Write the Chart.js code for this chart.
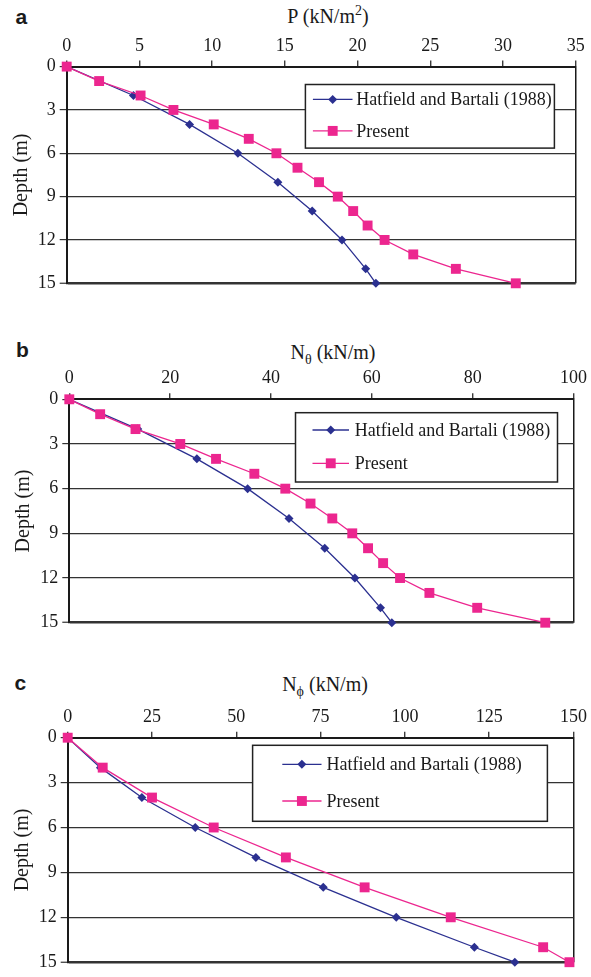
<!DOCTYPE html>
<html>
<head>
<meta charset="utf-8">
<script src="https://cdn.jsdelivr.net/npm/chart.js@4.4.1/dist/chart.umd.min.js"></script>
<style>
  body { margin: 0; background: #fff; width: 591px; height: 977px; position: relative; overflow: hidden; }
  canvas { position: absolute; left: 0; }
  .ttl { position: absolute; width: 200px; text-align: center; font: 20px "Liberation Serif", serif; line-height: 20px; color: #1a1a1a; white-space: nowrap; }
  .ttl sup, .ttl sub { font-size: 70%; line-height: 0; }
  .ltr { position: absolute; font: bold 21px "Liberation Sans", Arial, sans-serif; line-height: 21px; color: #1a1a1a; }
</style>
</head>
<body>
<div class="ltr" style="left:15.5px; top:5.5px">a</div>
<div class="ttl" style="left:228px; top:6px">P (kN/m<sup>2</sup>)</div>
<canvas id="chartA" width="591" height="300" style="top:0px"></canvas>

<div class="ltr" style="left:16px; top:339px">b</div>
<div class="ttl" style="left:233px; top:341.5px">N<sub>θ</sub> (kN/m)</div>
<canvas id="chartB" width="591" height="320" style="top:320px"></canvas>

<div class="ltr" style="left:14.5px; top:672px">c</div>
<div class="ttl" style="left:225px; top:674px">N<sub>ϕ</sub> (kN/m)</div>
<canvas id="chartC" width="591" height="317" style="top:660px"></canvas>

<script>
// depths (m)
var depthHat = [0, 2, 4, 6, 8, 10, 12, 14, 15];
var depthPresentAB = [0, 1, 2, 3, 4, 5, 6, 7, 8, 9, 10, 11, 12, 13, 14, 15];
var depthPresentC = [0, 2, 4, 6, 8, 10, 12, 14, 15];
var depthTicks = [0, 3, 6, 9, 12, 15];

// a: P (kN/m2)
var pHatfield = [0, 4.59, 8.45, 11.77, 14.52, 16.88, 18.93, 20.56, 21.26];
var pPresent = [0, 2.23, 5.08, 7.34, 10.11, 12.52, 14.42, 15.87, 17.35, 18.64, 19.70, 20.69, 21.86, 23.83, 26.76, 30.88];
var pTicks = [0, 5, 10, 15, 20, 25, 30, 35];

// b: N theta (kN/m)
var nThetaHatfield = [0, 13.58, 25.3, 35.37, 43.58, 50.67, 56.64, 61.72, 63.96];
var nThetaPresent = [0, 6.12, 13.13, 22.01, 29.1, 36.7, 42.84, 47.84, 52.16, 56.12, 59.25, 62.24, 65.6, 71.42, 80.9, 94.4];
var nThetaTicks = [0, 20, 40, 60, 80, 100];

// c: N phi (kN/m)
var nPhiHatfield = [0, 9.71, 21.99, 37.83, 55.8, 75.78, 97.43, 120.6, 132.6];
var nPhiPresent = [0, 10.38, 25.0, 43.3, 64.7, 88.06, 113.6, 141.0, 148.8];
var nPhiTicks = [0, 25, 50, 75, 100, 125, 150];

var seriesNames = ['Hatfield and Bartali (1988)', 'Present'];

var BLUE = '#2b3090';
var PINK = '#ec268f';
var INK = '#1a1a1a';
var SERIF = '"Liberation Serif", "Times New Roman", serif';

// legend box drawn inside the plot, like the original
var boxLegend = {
  id: 'boxLegend',
  afterDatasetsDraw: function (chart, args, o) {
    if (!o.box) return;
    var c = chart.ctx, b = o.box;
    c.save();
    c.fillStyle = '#fff';
    c.fillRect(b.x, b.y, b.w, b.h);
    c.strokeStyle = '#222';
    c.lineWidth = 1.5;
    c.strokeRect(b.x, b.y, b.w, b.h);
    // legend order: Hatfield first, Present second
    var list = chart.data.datasets.slice().sort(function (p, q) { return p.legendRow - q.legendRow; });
    list.forEach(function (ds, i) {
      var y = o.rows[i];
      c.strokeStyle = ds.borderColor;
      c.lineWidth = ds.borderWidth;
      c.beginPath();
      c.moveTo(o.line[0], y);
      c.lineTo(o.line[1], y);
      c.stroke();
      c.fillStyle = ds.backgroundColor;
      Chart.helpers.drawPoint(c, { pointStyle: ds.pointStyle, radius: ds.pointRadius, borderWidth: 0, rotation: 0 },
        (o.line[0] + o.line[1]) / 2, y);
      c.fillStyle = INK;
      c.font = '18px ' + SERIF;
      c.textBaseline = 'middle';
      c.fillText(ds.label, o.textX, y + 1);
    });
    c.restore();
  }
};

function pairs(xs, ys) {
  return xs.map(function (v, i) { return { x: v, y: ys[i] }; });
}

function makePanel(id, canvasTop, canvasH, area, hat, pres, presDepth, xTicks, legend) {
  var xMax = xTicks[xTicks.length - 1];
  return new Chart(document.getElementById(id), {
    type: 'scatter',
    data: {
      datasets: [
        {
          label: seriesNames[0], legendRow: 0,
          data: pairs(hat, depthHat),
          showLine: true, borderColor: BLUE, backgroundColor: BLUE, borderWidth: 1.3,
          pointStyle: 'rectRot', pointRadius: 4.5, pointBorderWidth: 0, clip: false, order: 1
        },
        {
          label: seriesNames[1], legendRow: 1,
          data: pairs(pres, presDepth),
          showLine: true, borderColor: PINK, backgroundColor: PINK, borderWidth: 1.3,
          pointStyle: 'rect', pointRadius: 7, pointBorderWidth: 0, clip: false, order: 0
        }
      ]
    },
    options: {
      responsive: false,
      animation: false,
      layout: { padding: { left: 0, top: 0, right: 591 - area.right, bottom: canvasTop + canvasH - area.bottom } },
      plugins: {
        legend: { display: false },
        tooltip: { enabled: false },
        boxLegend: legend
      },
      scales: {
        x: {
          type: 'linear', position: 'top', min: 0, max: xMax,
          afterBuildTicks: function (s) { s.ticks = xTicks.map(function (v) { return { value: v }; }); },
          afterFit: function (s) { s.height = area.top - canvasTop; },
          border: { color: INK, width: 2 },
          grid: {
            color: function (ctx) { return ctx.tick && ctx.tick.value === xMax ? INK : 'rgba(0,0,0,0)'; },
            lineWidth: 1.5, tickColor: INK, tickLength: 6, tickWidth: 1.2
          },
          ticks: { color: INK, font: { family: SERIF, size: 18 }, padding: 4, autoSkip: false, maxRotation: 0 }
        },
        y: {
          type: 'linear', reverse: true, min: 0, max: 15,
          afterBuildTicks: function (s) { s.ticks = depthTicks.map(function (v) { return { value: v }; }); },
          afterFit: function (s) { s.width = area.left; },
          border: { color: INK, width: 2 },
          grid: {
            color: function (ctx) { return ctx.tick && ctx.tick.value === 0 ? 'rgba(0,0,0,0)' : '#333'; },
            lineWidth: function (ctx) { return ctx.tick && ctx.tick.value === 15 ? 2.5 : 1.2; },
            tickColor: '#333', tickLength: 7, tickWidth: 1.2
          },
          ticks: { color: INK, font: { family: SERIF, size: 18 }, padding: 4, autoSkip: false },
          title: {
            display: true, text: 'Depth (m)', color: INK,
            font: { family: SERIF, size: 20 }, padding: { top: legend.titlePad, bottom: 0 }
          }
        }
      }
    },
    plugins: [boxLegend]
  });
}

makePanel('chartA', 0, 300, { left: 66.7, top: 66.6, right: 575.7, bottom: 283.3 },
  pHatfield, pPresent, depthPresentAB, pTicks,
  { box: { x: 305.4, y: 84.5, w: 249, h: 63.6 }, rows: [99.4, 130.9], line: [312.9, 352.5], textX: 356.3, titlePad: 9.7 });

makePanel('chartB', 320, 320, { left: 69.3, top: 399.3, right: 574.5, bottom: 622.7 },
  nThetaHatfield, nThetaPresent, depthPresentAB, nThetaTicks,
  { box: { x: 295.5, y: 92.7, w: 262, h: 69.3 }, rows: [110, 143.3], line: [312.5, 349], textX: 354.7, titlePad: 11.9 });

makePanel('chartC', 660, 317, { left: 67.7, top: 737.7, right: 573.7, bottom: 967.7 },
  nPhiHatfield, nPhiPresent, depthPresentC, nPhiTicks,
  { box: { x: 252.6, y: 85.3, w: 294.8, h: 76 }, rows: [104.3, 141], line: [282.3, 321.5], textX: 326.4, titlePad: 10.4 });
</script>
</body>
</html>
